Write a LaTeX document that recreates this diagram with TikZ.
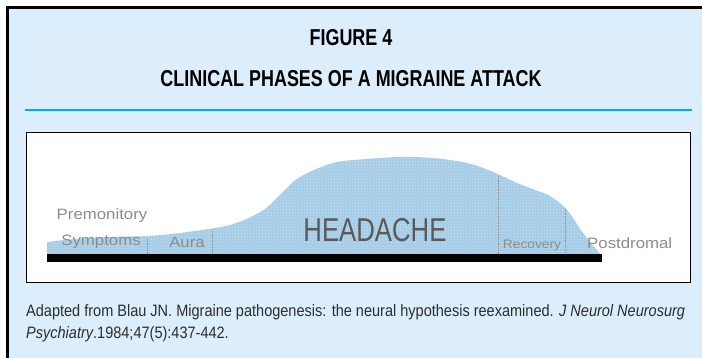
\documentclass[tikz,border=0pt]{standalone}
\usepackage{fontspec}
\setmainfont{Liberation Sans}
\newfontfamily\titlefont[FakeStretch=0.78]{Liberation Sans}
\newfontfamily\notefont[FakeStretch=0.88]{Liberation Sans}
\newfontfamily\phasefont[FakeStretch=1.12]{Liberation Sans}
\newfontfamily\headfont[FakeStretch=0.78]{Liberation Sans}
\usetikzlibrary{patterns,positioning}

\definecolor{panelblue}{RGB}{220,238,251}
\definecolor{rulecyan}{RGB}{0,174,239}
\definecolor{curveblue}{RGB}{166,203,230}
\definecolor{dotcyan}{RGB}{196,230,247}
\definecolor{phasegray}{RGB}{140,140,140}
\definecolor{notegray}{RGB}{45,45,45}

\newcommand{\attackcurve}{(47,254) -- (47,242)
	-- plot[smooth, tension=0.55] coordinates {(47,242) (75,239) (110,237) (147,236) (180,233)
		(230,225) (262,211) (282,193) (300,177) (333,163) (367,159) (400,157) (433,158)
		(467,163) (493,172) (517,183) (535,190) (550,196) (567,210) (583,233) (600,254)}
	-- cycle}

\begin{document}
\begin{tikzpicture}[
		x=1pt, y=-1pt,
		every node/.style={inner sep=0pt},
		heading/.style={font=\titlefont\bfseries\fontsize{23}{23}\selectfont},
		phase/.style={text=phasegray, font=\phasefont\fontsize{15}{15}\selectfont},
		smallphase/.style={text=phasegray, font=\phasefont\fontsize{12.3}{12.3}\selectfont},
		divider/.style={draw=phasegray, densely dotted, line width=0.8pt},
		note/.style={anchor=west, text=notegray, font=\notefont\fontsize{16.5}{16.5}\selectfont}
	]
	\useasboundingbox (0,0) rectangle (702,358);
	\fill[white] (0,0) rectangle (702,358);
	\fill[panelblue] (7.5,8) rectangle (702,358);
	\draw[line width=3pt] (702,8) -- (7.5,8) -- (7.5,358);

	\node[heading] (fig) at (351,38) {FIGURE 4};
	\node[heading] (title) at (351,79) {CLINICAL PHASES OF A MIGRAINE ATTACK};
	\draw[rulecyan, line width=2.5pt] (25,110) -- (692,110);

	% chart
	\draw[fill=white, line width=1pt] (26,133) rectangle (690,283);
	\fill[curveblue] \attackcurve;
	\fill[pattern=crosshatch dots, pattern color=dotcyan] \attackcurve;
	\fill[black] (47,254) rectangle (602,262);

	\draw[divider] (147,239) -- (147,254);
	\draw[divider] (212,231) -- (212,254);
	\draw[divider] (498,176) -- (498,254);
	\draw[divider] (565,209) -- (565,254);

	\node[phase] (premon) at (102,216) {Premonitory};
	\node[phase] (sympt) at (101,242) {Symptoms};
	\node[phase] (aura) at (187,242) {Aura};
	\node[text=black!65, font=\headfont\fontsize{33}{33}\selectfont] (head) at (375,230) {HEADACHE};
	\node[smallphase] (recov) at (532,246) {Recovery};
	\node[phase, anchor=west] (postd) at (587,243) {Postdromal};

	\node[note] (ref1) at (26,312) {Adapted from Blau JN. Migraine pathogenesis: the neural hypothesis reexamined. \textit{J Neurol Neurosurg}};
	\node[note] (ref2) at (26,334) {\textit{Psychiatry}.1984;47(5):437-442.};
\end{tikzpicture}
\end{document}
